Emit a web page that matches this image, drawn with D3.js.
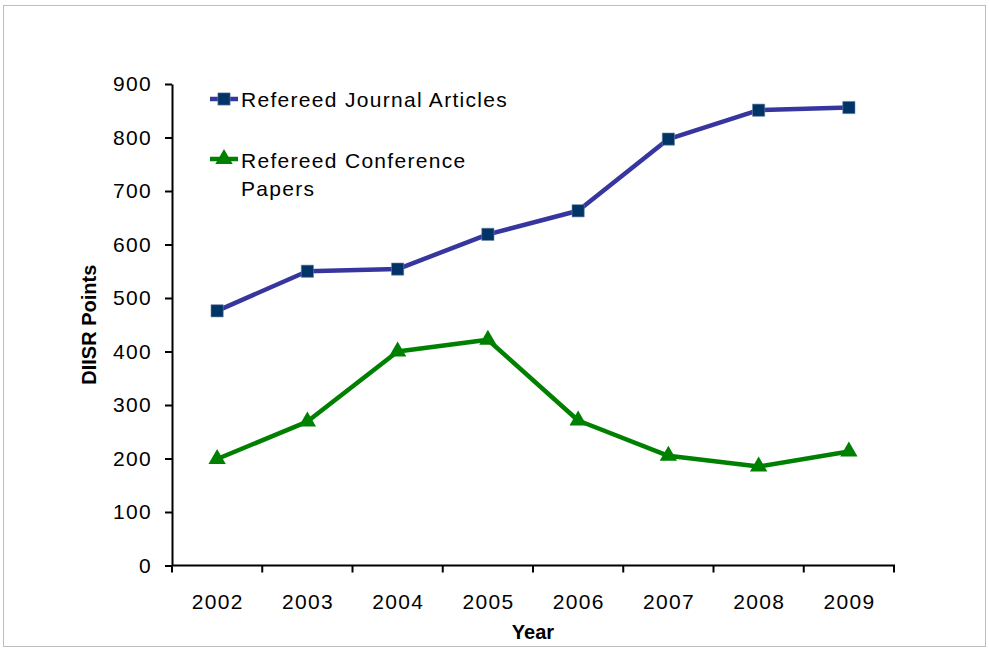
<!DOCTYPE html>
<html>
<head>
<meta charset="utf-8">
<script src="https://cdn.jsdelivr.net/npm/d3@7"></script>
<style>
  html, body { margin: 0; padding: 0; background: #fff; }
  svg { display: block; }
  text { font-family: "Liberation Sans", Arial, sans-serif; fill: #000; }
</style>
</head>
<body>
<script>
// DIISR points by year for refereed publications
const years = ["2002", "2003", "2004", "2005", "2006", "2007", "2008", "2009"];
const journalArticles = [476, 550, 554, 619, 663, 797, 851, 856];
const conferencePapers = [199, 269, 400, 422, 271, 205, 185, 213];
const yTicks = [0, 100, 200, 300, 400, 500, 600, 700, 800, 900];

const W = 989, H = 652;
const svg = d3.select("body").append("svg").attr("width", W).attr("height", H);

// outer frame
svg.append("rect")
  .attr("x", 3.5).attr("y", 5.5).attr("width", 982).attr("height", 641)
  .attr("fill", "#fff").attr("stroke", "#bdbdbd").attr("stroke-width", 1);

const plotLeft = 172, plotRight = 894, plotTop = 84, plotBottom = 565.5;
const labelFont = 21, labelSpacing = "1.3px";

const x = d3.scaleBand().domain(years).range([plotLeft, plotRight]).padding(0);
const y = d3.scaleLinear().domain([0, 900]).range([plotBottom, plotTop]);

// y axis
const yAxis = svg.append("g").attr("transform", `translate(${plotLeft},0)`)
  .call(d3.axisLeft(y).tickValues(yTicks).tickSize(7).tickSizeOuter(0).tickPadding(13));
yAxis.select(".domain").attr("stroke", "#000").attr("stroke-width", 2);
yAxis.selectAll(".tick line").attr("stroke", "#000").attr("stroke-width", 2);
yAxis.selectAll(".tick text").attr("font-size", labelFont).attr("letter-spacing", labelSpacing)
  .attr("font-family", "'Liberation Sans', Arial, sans-serif").attr("fill", "#000");

// x axis with ticks on band boundaries
const xAxisG = svg.append("g").attr("transform", `translate(0,${plotBottom})`);
xAxisG.append("line").attr("x1", plotLeft).attr("x2", plotRight + 1).attr("y1", 0).attr("y2", 0)
  .attr("stroke", "#000").attr("stroke-width", 2);
const boundaries = years.map(d => x(d)).concat([x(years[years.length - 1]) + x.bandwidth()]);
xAxisG.selectAll("line.tk").data(boundaries).join("line").attr("class", "tk")
  .attr("x1", d => d).attr("x2", d => d).attr("y1", 0).attr("y2", 7)
  .attr("stroke", "#000").attr("stroke-width", 2);
xAxisG.selectAll("text.lbl").data(years).join("text").attr("class", "lbl")
  .attr("x", d => x(d) + x.bandwidth() / 2 + 0.7).attr("y", 43)
  .attr("text-anchor", "middle").attr("font-size", labelFont).attr("letter-spacing", labelSpacing)
  .text(d => d);

// axis titles
svg.append("text").attr("x", x("2005") + x.bandwidth()).attr("y", 639)
  .attr("text-anchor", "middle").attr("font-size", 20).attr("font-weight", "bold").text("Year");
svg.append("text")
  .attr("transform", `translate(96,${(plotTop + plotBottom) / 2}) rotate(-90)`)
  .attr("text-anchor", "middle").attr("font-size", 20).attr("font-weight", "bold").text("DIISR Points");

const cx = d => x(d) + x.bandwidth() / 2;
const line = d3.line().x((d, i) => cx(years[i])).y(d => y(d));

// journal articles series
svg.append("path").datum(journalArticles).attr("d", line)
  .attr("fill", "none").attr("stroke", "#36369e").attr("stroke-width", 4.5).attr("stroke-linejoin", "round");
const sq = d3.symbol().type(d3.symbolSquare).size(150);
svg.selectAll("path.sq").data(journalArticles).join("path").attr("class", "sq")
  .attr("d", sq).attr("transform", (d, i) => `translate(${cx(years[i])},${y(d)})`)
  .attr("fill", "#003366").attr("stroke", "#6e86a6").attr("stroke-width", 0.6);

// conference papers series
svg.append("path").datum(conferencePapers).attr("d", line)
  .attr("fill", "none").attr("stroke", "#008000").attr("stroke-width", 4.5).attr("stroke-linejoin", "round");
const tri = d3.symbol().type(d3.symbolTriangle).size(130);
svg.selectAll("path.tri").data(conferencePapers).join("path").attr("class", "tri")
  .attr("d", tri).attr("transform", (d, i) => `translate(${cx(years[i])},${y(d)})`)
  .attr("fill", "#008000");

// legend
const lg = svg.append("g").attr("font-size", labelFont).attr("letter-spacing", labelSpacing);
lg.append("line").attr("x1", 210).attr("x2", 238).attr("y1", 99).attr("y2", 99)
  .attr("stroke", "#36369e").attr("stroke-width", 4.5);
lg.append("path").attr("d", sq).attr("transform", "translate(224,99)")
  .attr("fill", "#003366").attr("stroke", "#6e86a6").attr("stroke-width", 0.6);
lg.append("text").attr("x", 241).attr("y", 106.5).text("Refereed Journal Articles");

lg.append("line").attr("x1", 210).attr("x2", 238).attr("y1", 159).attr("y2", 159)
  .attr("stroke", "#008000").attr("stroke-width", 4.5);
lg.append("path").attr("d", tri).attr("transform", "translate(224,159)").attr("fill", "#008000");
lg.append("text").attr("x", 241).attr("y", 167.5).text("Refereed Conference");
lg.append("text").attr("x", 241).attr("y", 195.5).text("Papers");
</script>
</body>
</html>
